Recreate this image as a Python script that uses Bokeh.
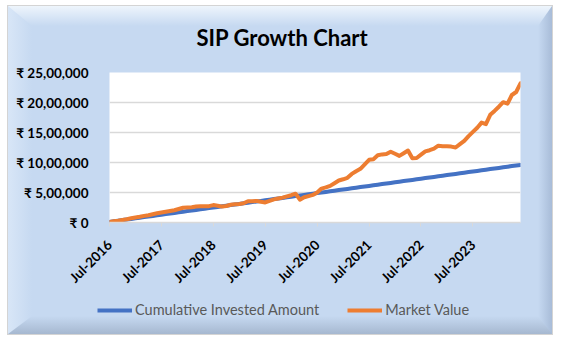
from math import pi
import pandas as pd
from bokeh.plotting import figure
from bokeh.layouts import column
from bokeh.models import (Range1d, FixedTicker, Legend, LegendItem, ColumnDataSource,
                          InlineStyleSheet)
from bokeh.embed import file_html
from bokeh.resources import INLINE

# ---------------- data ----------------
months = [d.strftime("%b-%Y") for d in pd.date_range("2016-07-01", periods=96, freq="MS")]

invested = [
    10000, 20000, 30000, 40000, 50000, 60000, 70000, 80000, 90000, 100000, 110000, 120000,
    130000, 140000, 150000, 160000, 170000, 180000, 190000, 200000, 210000, 220000, 230000, 240000,
    250000, 260000, 270000, 280000, 290000, 300000, 310000, 320000, 330000, 340000, 350000, 360000,
    370000, 380000, 390000, 400000, 410000, 420000, 430000, 440000, 450000, 460000, 470000, 480000,
    490000, 500000, 510000, 520000, 530000, 540000, 550000, 560000, 570000, 580000, 590000, 600000,
    610000, 620000, 630000, 640000, 650000, 660000, 670000, 680000, 690000, 700000, 710000, 720000,
    730000, 740000, 750000, 760000, 770000, 780000, 790000, 800000, 810000, 820000, 830000, 840000,
    850000, 860000, 870000, 880000, 890000, 900000, 910000, 920000, 930000, 940000, 950000, 960000,
]

market_value = [
    10000, 20000, 30000, 42000, 55000, 70000, 82000, 95000, 110000, 122000, 138000, 155000,
    168000, 180000, 192000, 205000, 225000, 245000, 252000, 255000, 265000, 272000, 270000, 272000,
    290000, 280000, 265000, 275000, 295000, 305000, 310000, 320000, 355000, 355000, 360000, 345000,
    335000, 360000, 385000, 400000, 415000, 435000, 455000, 480000, 380000, 420000, 440000, 460000,
    500000, 565000, 585000, 610000, 655000, 700000, 720000, 745000, 810000, 855000, 895000, 970000,
    1045000, 1055000, 1120000, 1135000, 1140000, 1180000, 1145000, 1110000, 1155000, 1200000, 1070000, 1075000,
    1130000, 1185000, 1205000, 1230000, 1280000, 1270000, 1270000, 1265000, 1250000, 1305000, 1360000, 1440000,
    1510000, 1580000, 1665000, 1640000, 1795000, 1860000, 1930000, 2005000, 1980000, 2125000, 2175000, 2320000,
]

x_tick_labels = ["Jul-2016", "Jul-2017", "Jul-2018", "Jul-2019",
                 "Jul-2020", "Jul-2021", "Jul-2022", "Jul-2023"]
y_tick_values = [0, 500000, 1000000, 1500000, 2000000, 2500000]
y_tick_labels = ["₹ 0", "₹ 5,00,000", "₹ 10,00,000", "₹ 15,00,000", "₹ 20,00,000", "₹ 25,00,000"]
series_names = ["Cumulative Invested Amount", "Market Value"]
series_colors = ["#4472C4", "#ED7D31"]

# ---------------- chart-area background (CSS bevel behind transparent canvases) ----------------
MAIN = "#C6D9F1"
css = f"""
:host {{
  position: relative;
  isolation: isolate;
  background:
    linear-gradient(to right, #D8E6F7, {MAIN}) 8px 6px / 24px 328px no-repeat,
    linear-gradient(to left, #A8BCD8, {MAIN}) 538px 6px / 14px 328px no-repeat,
    linear-gradient({MAIN}, {MAIN}) 8px 6px / 544px 328px no-repeat,
    linear-gradient(#D4D4D4, #D4D4D4) 7px 5px / 546px 330px no-repeat,
    white;
}}
:host::before {{
  content: "";
  position: absolute;
  left: 8px; top: 6px; width: 544px; height: 20px;
  background: linear-gradient(to bottom, #EEF5FC, {MAIN});
  clip-path: polygon(0 0, 100% 0, calc(100% - 14px) 100%, 24px 100%);
  z-index: -1;
  pointer-events: none;
}}
:host::after {{
  content: "";
  position: absolute;
  left: 8px; top: 316px; width: 544px; height: 18px;
  background: linear-gradient(to top, #A6B8D0, {MAIN});
  clip-path: polygon(24px 0, calc(100% - 14px) 0, 100% 100%, 0 100%);
  z-index: -1;
  pointer-events: none;
}}
"""

FONT = "Lato"
src = ColumnDataSource(dict(x=list(range(len(months))), month=months,
                            invested=invested, market=market_value))

# ---------------- main figure ----------------
p = figure(width=561, height=298, output_backend="svg", toolbar_location=None,
           x_range=Range1d(0, len(months) - 1), y_range=Range1d(0, 2500000),
           min_border_left=109, min_border_right=41, min_border_top=70, min_border_bottom=76,
           title="SIP Growth Chart")
p.frame_align = False
p.border_fill_alpha = 0
p.background_fill_color = "white"
p.outline_line_color = None

p.title.align = "left"
p.title.offset = 87
p.title.text_font = FONT
p.title.text_font_style = "bold"
p.title.text_font_size = "22px"
p.title.text_color = "black"
p.title.standoff = 43

r_inv = p.line("x", "invested", source=src, line_color=series_colors[0], line_width=4,
               line_join="round", line_cap="round")
r_mkt = p.line("x", "market", source=src, line_color=series_colors[1], line_width=4,
               line_join="round", line_cap="round")

xt = [months.index(lbl) for lbl in x_tick_labels]
p.xaxis.ticker = FixedTicker(ticks=xt)
p.xaxis.major_label_overrides = {i: lbl for i, lbl in zip(xt, x_tick_labels)}
p.xaxis.major_label_orientation = pi / 4
p.xaxis.axis_line_color = "#D9D9D9"
p.xaxis.axis_line_width = 1.5
p.xaxis.major_tick_line_color = "#D9D9D9"
p.xaxis.major_tick_in = 0
p.xaxis.major_tick_out = 4
p.xaxis.minor_tick_line_color = None
p.xaxis.major_label_standoff = 16
p.xaxis.major_label_text_font = FONT
p.xaxis.major_label_text_font_style = "bold"
p.xaxis.major_label_text_font_size = "13.5px"
p.xaxis.major_label_text_color = "black"

p.yaxis.ticker = FixedTicker(ticks=y_tick_values)
p.yaxis.major_label_overrides = {v: lbl for v, lbl in zip(y_tick_values, y_tick_labels)}
p.yaxis.axis_line_color = None
p.yaxis.major_tick_line_color = None
p.yaxis.minor_tick_line_color = None
p.yaxis.major_label_standoff = 15
p.yaxis.major_label_text_font = FONT
p.yaxis.major_label_text_font_style = "bold"
p.yaxis.major_label_text_font_size = "13.5px"
p.yaxis.major_label_text_color = "black"

p.xgrid.grid_line_color = None
p.ygrid.grid_line_color = "#D9D9D9"
p.ygrid.grid_line_width = 1.5

# ---------------- legend strip (its frame shows nothing of the data: only the key) ----------------
pl = figure(width=561, height=44, output_backend="svg", toolbar_location=None,
            x_axis_type=None, y_axis_type=None, min_border=0,
            x_range=Range1d(-2, -1), y_range=Range1d(-2, -1))
pl.frame_align = False
pl.border_fill_alpha = 0
pl.background_fill_alpha = 0
pl.outline_line_color = None
pl.grid.grid_line_color = None
key_renderers = [pl.line("x", col, source=src, line_color=c, line_width=4)
                 for col, c in zip(["invested", "market"], series_colors)]

legend = Legend(items=[LegendItem(label=n, renderers=[r]) for n, r in zip(series_names, key_renderers)],
                orientation="horizontal", location=(97, 24),
                background_fill_alpha=0, border_line_color=None,
                glyph_width=35, glyph_height=16, label_height=16,
                label_standoff=3, spacing=28, padding=0, margin=0,
                label_text_font=FONT, label_text_font_size="14.5px",
                label_text_color="#595959")
pl.add_layout(legend, "center")

layout = column(p, pl, spacing=0)
layout.stylesheets = [InlineStyleSheet(css=css)]

open("out.html", "w").write(file_html(layout, INLINE))
